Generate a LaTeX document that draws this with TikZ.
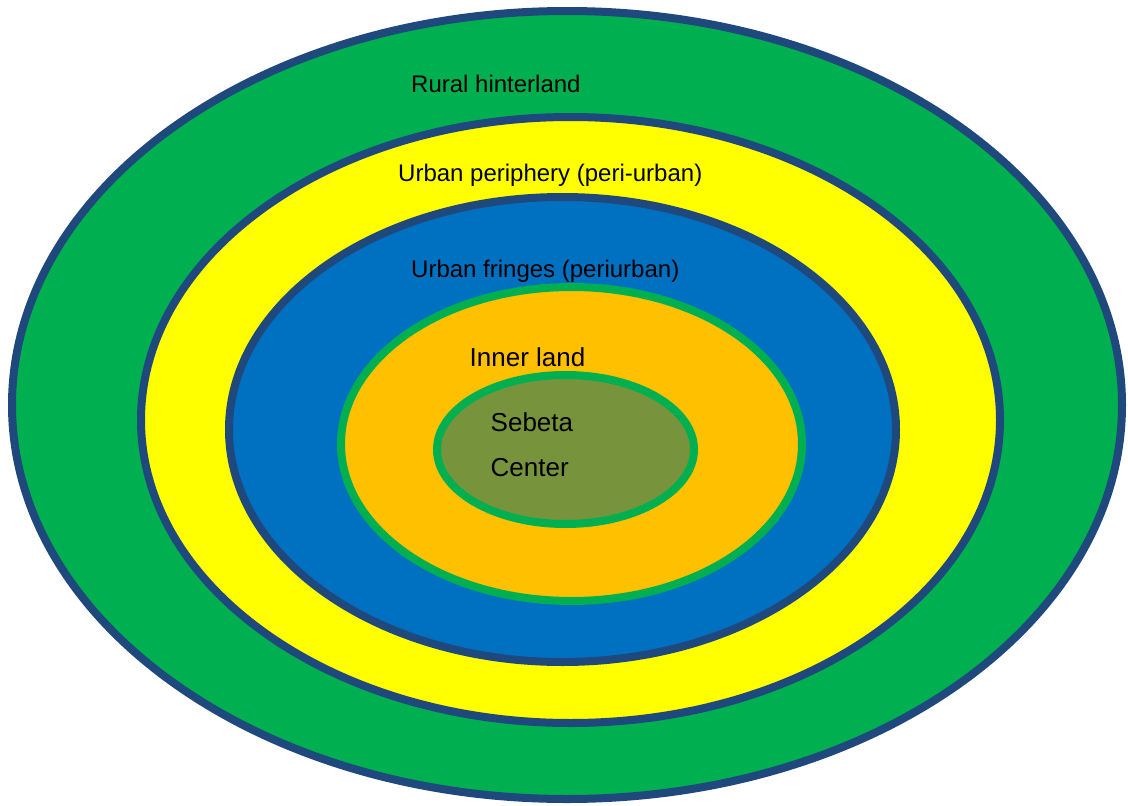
\documentclass[tikz,border=0pt]{standalone}
\usepackage{fontspec}
\setmainfont{Liberation Sans}
\definecolor{ringgreen}{RGB}{0,176,80}
\definecolor{ringedge}{RGB}{31,73,125}
\definecolor{ringyellow}{RGB}{255,255,0}
\definecolor{ringblue}{RGB}{0,112,192}
\definecolor{ringorange}{RGB}{255,192,0}
\definecolor{ringolive}{RGB}{119,147,60}
\tikzset{
  outerring/.style={draw=ringedge, line width=8pt},
  innerring/.style={draw=ringgreen, line width=8pt},
  lbl/.style={anchor=base west, inner sep=0pt, font=\fontsize{24}{29}\selectfont},
  lblbig/.style={anchor=base west, inner sep=0pt, font=\fontsize{26}{31}\selectfont}
}
\begin{document}
\begin{tikzpicture}[x=1pt,y=-1pt]
\useasboundingbox (0,0) rectangle (1128,806);
\fill[white] (0,0) rectangle (1128,806);
\begin{scope}
\clip (0,0) rectangle (1128,806);
\path[outerring, fill=ringgreen] (567,405) ellipse [x radius=555, y radius=394];
\end{scope}
\path[outerring, fill=ringyellow] (570.5,420) ellipse [x radius=429.5, y radius=303];
\path[outerring, fill=ringblue] (562.5,429.5) ellipse [x radius=333.5, y radius=232.5];
\path[innerring, fill=ringorange] (571.5,444) ellipse [x radius=230.5, y radius=157];
\path[innerring, fill=ringolive] (565.5,449.5) ellipse [x radius=128.5, y radius=74.5];
\node[lbl] (rural) at (411,92.3) {Rural hinterland};
\node[lbl] (periphery) at (398,181) {Urban periphery (peri-urban)};
\node[lbl] (fringes) at (411,277.3) {Urban fringes (periurban)};
\node[lblbig] (inner) at (469.5,366.7) {Inner land};
\node[lblbig] (sebeta) at (490.5,431) {Sebeta};
\node[lblbig] (center) at (490.5,476) {Center};
\end{tikzpicture}
\end{document}
